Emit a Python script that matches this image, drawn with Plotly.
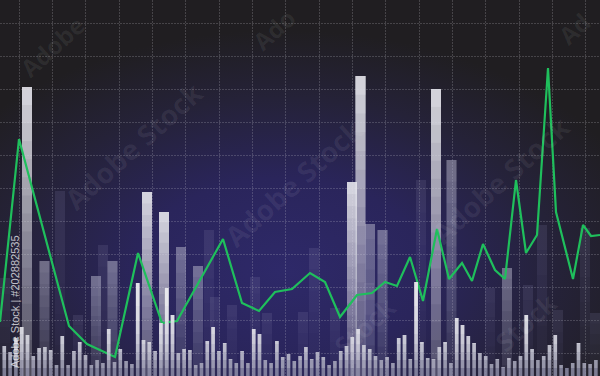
import base64
import plotly.graph_objects as go

# ---------------- data ----------------
# green price line: position along the time axis and value
line_x = [0, 19, 69, 87, 115, 138, 162, 177, 223, 242, 259, 275, 292, 310, 325,
          340, 357, 372, 385, 397, 410, 423, 437, 449, 462, 472, 483, 495, 505,
          516, 526, 537, 548, 556, 573, 583, 591, 600]
line_y = [54, 237, 50, 32, 19, 123, 53, 55, 137, 73, 65, 84, 87, 103, 94,
          59, 81, 83, 94, 90, 119, 75, 147, 97, 113, 95, 132, 106, 97,
          196, 123, 141, 308, 164, 97, 151, 140, 141]

# thin volume bars (one per period, 103 periods)
volume = [30, 24, 38, 49, 41, 20, 28, 29, 26, 11,
          40, 11, 25, 34, 21, 11, 16, 13, 47, 14,
          27, 15, 12, 93, 36, 34, 25, 53, 88, 61,
          23, 27, 26, 11, 13, 35, 49, 25, 33, 17,
          13, 25, 13, 47, 42, 16, 13, 35, 19, 22,
          15, 20, 29, 17, 24, 19, 11, 15, 25, 30,
          39, 47, 31, 27, 20, 16, 19, 13, 38, 41,
          17, 94, 34, 18, 17, 29, 34, 13, 58, 51,
          40, 33, 23, 20, 12, 17, 9, 18, 15, 20,
          61, 27, 16, 20, 31, 41, 11, 8, 13, 33,
          13, 12, 16]
volume_idx = list(range(len(volume)))

# wide bright bars
bright_x = [27, 147, 164, 352, 360.5, 436]
bright_h = [289, 184, 164, 194, 300, 287]
# wide medium bars
medium_x = [44.5, 96, 112.5, 181, 198, 370, 382.5, 451.5, 507]
medium_h = [115, 100, 115, 129, 110, 152, 146, 216, 108]
# faint ghost bars
ghost_x = [5, 60, 78, 103, 209, 215, 232, 255, 267, 303, 314, 335, 369,
           421, 490, 528, 542, 558, 585, 595]
ghost_h = [98, 185, 61, 131, 146, 79, 71, 99, 63, 64, 128, 68, 93,
           196, 88, 91, 151, 66, 148, 63]

# ---------------- styling helpers ----------------
W, H = 600, 376


def relative_fade(x, h, width, color, bottom_alpha, top_alpha, n, xaxis="x"):
    """Overlapping layers that all reach the bar top; opacity grows roughly
    linearly from bottom_alpha (bar foot) to top_alpha (bar top)."""
    traces = []
    prev_t = 1.0
    for k in range(n):
        target = bottom_alpha + (top_alpha - bottom_alpha) * (k / (n - 1))
        t_now = 1 - target
        a = 1 - t_now / prev_t
        prev_t = t_now
        traces.append(go.Bar(
            x=x, y=[v * (1 - k / n) for v in h], base=[v * k / n for v in h],
            width=width, xaxis=xaxis, yaxis="y",
            marker=dict(color="rgba(%d,%d,%d,%.4f)" % (color + (a,)),
                        line=dict(width=0)),
            hoverinfo="skip", showlegend=False))
    return traces


def level_fade(x, h, width, levels, base_color, layer_color, xaxis="x"):
    """Base bar plus overlapping layers starting at fixed heights."""
    traces = [go.Bar(x=x, y=h, width=width, xaxis=xaxis, yaxis="y",
                     marker=dict(color=base_color, line=dict(width=0)),
                     hoverinfo="skip", showlegend=False)]
    for lo in levels:
        seg = [max(0, v - lo) for v in h]
        traces.append(go.Bar(
            x=x, y=seg, base=[lo] * len(h), width=width,
            xaxis=xaxis, yaxis="y",
            marker=dict(color=layer_color, line=dict(width=0)),
            hoverinfo="skip", showlegend=False))
    return traces


fig = go.Figure()

for tr in relative_fade(ghost_x, ghost_h, 10, (160, 160, 185), 0.04, 0.17, 6):
    fig.add_trace(tr)
for tr in relative_fade(medium_x, medium_h, 10, (190, 190, 210), 0.10, 0.50, 10):
    fig.add_trace(tr)
for tr in relative_fade(bright_x, bright_h, 10, (232, 232, 238), 0.22, 0.90, 16):
    fig.add_trace(tr)

for tr in level_fade(volume_idx, volume, 0.62, [8, 16, 24, 32, 42, 55, 70],
                     "rgba(150,150,176,0.78)", "rgba(255,255,255,0.2)",
                     xaxis="x2"):
    fig.add_trace(tr)

fig.add_trace(go.Scatter(x=line_x, y=line_y, mode="lines",
                         line=dict(color="#1fbf5c", width=2.2),
                         hoverinfo="skip", showlegend=False))

# background glow
svg = (
    "<svg xmlns='http://www.w3.org/2000/svg' width='600' height='376' "
    "viewBox='0 0 600 376' preserveAspectRatio='none'>"
    "<defs><radialGradient id='g' cx='0.47' cy='0.72' r='0.64'>"
    "<stop offset='0' stop-color='#2e2969'/>"
    "<stop offset='0.38' stop-color='#2a255b'/>"
    "<stop offset='0.72' stop-color='#252238'/>"
    "<stop offset='1' stop-color='#201e21'/>"
    "</radialGradient></defs>"
    "<rect width='600' height='376' fill='#201e21'/>"
    "<rect width='600' height='376' fill='url(#g)'/>"
    "</svg>")
bg_src = "data:image/svg+xml;base64," + base64.b64encode(svg.encode()).decode()

grid = dict(showgrid=True, gridcolor="rgba(205,205,215,0.22)", gridwidth=1,
            griddash="2px,1px", zeroline=False, showticklabels=False,
            ticks="", showline=False, fixedrange=True)

annotations = [dict(text="Adobe Stock | #202882535", xref="paper", yref="paper",
                    x=15 / W, y=1 - 302 / H, textangle=-90, showarrow=False,
                    font=dict(family="Liberation Sans", size=11,
                              color="rgba(235,235,240,0.8)"),
                    xanchor="center", yanchor="middle")]
# faint diagonal watermark pieces as they appear in the picture
watermarks = [("Adobe Stock", 133, 146, 28), ("Adobe Stock", 293, 183, 28),
              ("Adobe Stock", 500, 180, 28), ("Adobe", 52, 46, 24),
              ("Ado", 274, 30, 24), ("Ad", 574, 28, 24),
              ("Stock", 365, 326, 26), ("Stock", 526, 322, 26)]
for txt, cx, cy, fs in watermarks:
    annotations.append(dict(text="<b>%s</b>" % txt, xref="paper", yref="paper",
                            x=cx / W, y=1 - cy / H, textangle=-42,
                            showarrow=False, xanchor="center", yanchor="middle",
                            font=dict(family="Open Sans", size=fs,
                                      color="rgba(255,255,255,0.07)")))

fig.update_layout(
    width=W, height=H, autosize=False,
    margin=dict(l=0, r=0, t=0, b=0, pad=0),
    paper_bgcolor="#201e21", plot_bgcolor="rgba(0,0,0,0)",
    barmode="overlay", showlegend=False,
    xaxis=dict(range=[0, 600], tick0=19, dtick=100 / 3, **grid),
    xaxis2=dict(range=[-4.3 / 5.8, (600 - 4.3) / 5.8], overlaying="x",
                visible=False, fixedrange=True),
    yaxis=dict(range=[0, 376], tick0=23, dtick=33, **grid),
    images=[dict(source=bg_src, xref="paper", yref="paper", x=0, y=1,
                 sizex=1, sizey=1, sizing="stretch", layer="below",
                 xanchor="left", yanchor="top")],
    annotations=annotations,
)

fig.write_html("out.html", config={"displayModeBar": False})
